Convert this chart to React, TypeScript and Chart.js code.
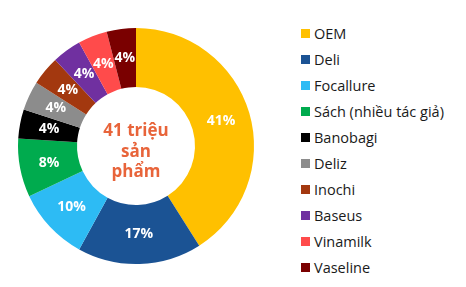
import React, { useEffect, useRef } from "react";
import { Chart, registerables } from "chart.js";

Chart.register(...registerables);

const categories = ["OEM", "Deli", "Focallure", "Sách (nhiều tác giả)", "Banobagi", "Deliz", "Inochi", "Baseus", "Vinamilk", "Vaseline"];
const shares = [41, 17, 10, 8, 4, 4, 4, 4, 4, 4];
const colors = ["#FFC000", "#1B5394", "#2DBBF4", "#00AB4E", "#000000", "#8C8C8C", "#A3380F", "#7030A0", "#FF4B4B", "#7A0000"];
const centerLines = ["41 triệu", "sản", "phẩm"];

const FONT = "'Open Sans', 'Noto Sans', sans-serif";

export default function App() {
  const ref = useRef<HTMLCanvasElement | null>(null);

  useEffect(() => {
    document.body.style.margin = "0";
    const canvas = ref.current;
    if (!canvas) return;

    const labelPlugin = {
      id: "sliceLabels",
      afterDatasetsDraw(chart: any) {
        const ctx = chart.ctx;
        const meta = chart.getDatasetMeta(0);
        ctx.save();
        ctx.fillStyle = "#ffffff";
        ctx.font = `bold 14px ${FONT}`;
        ctx.textAlign = "center";
        ctx.textBaseline = "middle";
        meta.data.forEach((arc: any, i: number) => {
          const p = arc.tooltipPosition();
          ctx.fillText(shares[i] + "%", p.x, p.y);
        });
        const first = meta.data[0];
        if (first) {
          ctx.fillStyle = "#E8643A";
          ctx.font = `bold 17px ${FONT}`;
          ctx.textBaseline = "alphabetic";
          const lh = 20.5;
          const base = first.y - 10;
          centerLines.forEach((t, i) => ctx.fillText(t, first.x, base + i * lh));
        }
        ctx.restore();
      },
    };

    const chart = new Chart(canvas, {
      type: "doughnut",
      data: {
        labels: categories,
        datasets: [
          {
            data: shares,
            backgroundColor: colors,
            borderWidth: 0,
          },
        ],
      },
      options: {
        responsive: false,
        animation: false,
        cutout: "50%",
        layout: { padding: { left: 18, right: 36, top: 28, bottom: 23 } },
        plugins: {
          legend: { display: false },
          tooltip: { enabled: false },
        },
      },
      plugins: [labelPlugin],
    });
    return () => chart.destroy();
  }, []);

  return (
    <div style={{ position: "relative", width: 466, height: 287, background: "#fff", overflow: "hidden" }}>
      <canvas ref={ref} width={290} height={287} style={{ position: "absolute", left: 0, top: 0 }} />
      <div style={{ position: "absolute", left: 301, top: 20, fontFamily: FONT, fontSize: 14.5, color: "#1a1a1a" }}>
        {categories.map((c, i) => (
          <div key={c} style={{ display: "flex", alignItems: "center", height: 26 }}>
            <span style={{ width: 9, height: 9, background: colors[i], marginRight: 4, display: "inline-block", flexShrink: 0 }} />
            <span>{c}</span>
          </div>
        ))}
      </div>
    </div>
  );
}
